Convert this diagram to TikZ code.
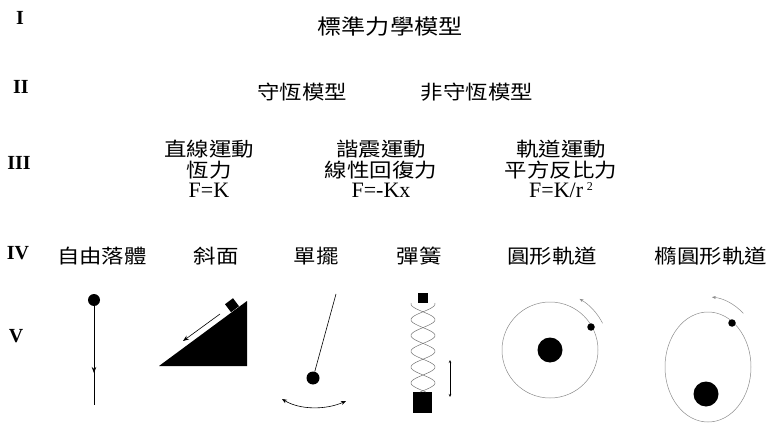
\documentclass[tikz,border=0pt]{standalone}
\usepackage{fontspec}
\setmainfont{Liberation Serif}
\newfontfamily\cjk[FakeStretch=1.15]{Noto Sans CJK TC}
\usepackage{tikz}
\usetikzlibrary{arrows.meta,calc}

\begin{document}
\begin{tikzpicture}[
  x=1pt,y=-1pt,
  level/.style={font=\fontsize{20}{20}\selectfont\bfseries},
  top/.style={font=\cjk\fontsize{21}{21}\selectfont},
  model/.style={font=\cjk\fontsize{19.5}{20}\selectfont},
  law/.style={align=center,font=\cjk\fontsize{19.5}{20.5}\selectfont},
  ball/.style={circle,fill=black,inner sep=0pt,minimum size=12pt},
  planet/.style={circle,fill=black,inner sep=0pt,minimum size=7.5pt},
  sun/.style={circle,fill=black,inner sep=0pt,minimum size=25pt},
  orbit/.style={draw=black!45,line width=0.5pt},
  arr/.style={-{Stealth[length=6pt,width=4.5pt]}}
]
\useasboundingbox (0,0) rectangle (769,425);

\node[level] (lvI)   at (20,18)  {I};
\node[level] (lvII)  at (21,87)  {II};
\node[level] (lvIII) at (19,163) {III};
\node[level] (lvIV)  at (18,253) {IV};
\node[level] (lvV)   at (16,336) {V};

\node[top] (standard) at (390,27) {標準力學模型};
\node[model] (cons) at (302,92) {守恆模型};
\node[model] (noncons) at (477,92) {非守恆模型};

\node[law] (linear) at (209,169) {直線運動\\恆力\\{\rmfamily\fontsize{22}{20}\selectfont F=K}};
\node[law] (harmonic) at (381,169) {諧震運動\\線性回復力\\{\rmfamily\fontsize{22}{20}\selectfont F=-Kx}};
\node[law] (orbital) at (561,169) {軌道運動\\平方反比力\\{\rmfamily\fontsize{22}{20}\selectfont F=K/r\,\raisebox{0.3em}{\fontsize{12}{12}\selectfont 2}}};

\node[model] (fall) at (102,256) {自由落體};
\node[model] (slope) at (216,256) {斜面};
\node[model] (pend) at (316,256) {單擺};
\node[model] (spring) at (419,256) {彈簧};
\node[model] (circ) at (552,256) {圓形軌道};
\node[model] (ellip) at (711,256) {橢圓形軌道};

% free fall
\node[ball] (fallball) at (94,300) {};
\coordinate (fallend) at (94,405);
\draw[line width=0.6pt] (fallball) -- (fallend);
\draw[arr,line width=0.6pt] (fallball) -- (94,373);

% incline with block
\fill (159,366) -- (247,366) -- (247,301) -- cycle;
\fill[rotate around={36.87:(231,312.2)}] (231,312.2) rectangle ++(10,-10);
\draw[arr,line width=0.6pt] (220,314) -- (183,341);

% pendulum
\coordinate (pivot) at (336,294);
\node[ball,minimum size=13pt] (bob) at (313,378) {};
\draw[line width=0.6pt] (pivot) -- (bob);
\draw[{Stealth[length=5pt,width=4pt]}-{Stealth[length=5pt,width=4pt]},line width=0.6pt]
  (282,399) .. controls (300,410) and (326,410) .. (346,401);

% spring
\fill (418,293) rectangle (428,303);
\fill (413,392) rectangle (432,413);
\draw[black!55,line width=0.5pt,domain=303:392,samples=120,variable=\y]
  plot ({423+12*sin((\y-296)*11.392)},\y);
\draw[black!55,line width=0.5pt,domain=303:392,samples=120,variable=\y]
  plot ({423-12*sin((\y-296)*11.392)},\y);
\draw[{Stealth[length=3pt,width=2.5pt]}-{Stealth[length=3pt,width=2.5pt]},line width=0.5pt]
  (450,360) -- (450,397);

% circular orbit
\node[sun] (csun) at (550,350) {};
\draw[orbit] (csun.center) circle[radius=48];
\node[planet] (cplanet) at (591,327) {};
\draw[orbit,-{Stealth[length=4pt,width=3pt]}] ($(csun.center)+(-27:59)$) arc[start angle=-27,end angle=-60,radius=59];

% elliptic orbit
\coordinate (ecentre) at (708,367);
\draw[orbit] (ecentre) ellipse[x radius=43,y radius=55];
\node[sun] (esun) at (706,394) {};
\node[planet] (eplanet) at (732,323) {};
\draw[orbit,-{Stealth[length=4pt,width=3pt]}] ($(ecentre)+(-50:55 and 70)$) arc[start angle=-50,end angle=-86,x radius=55,y radius=70];
\end{tikzpicture}
\end{document}
